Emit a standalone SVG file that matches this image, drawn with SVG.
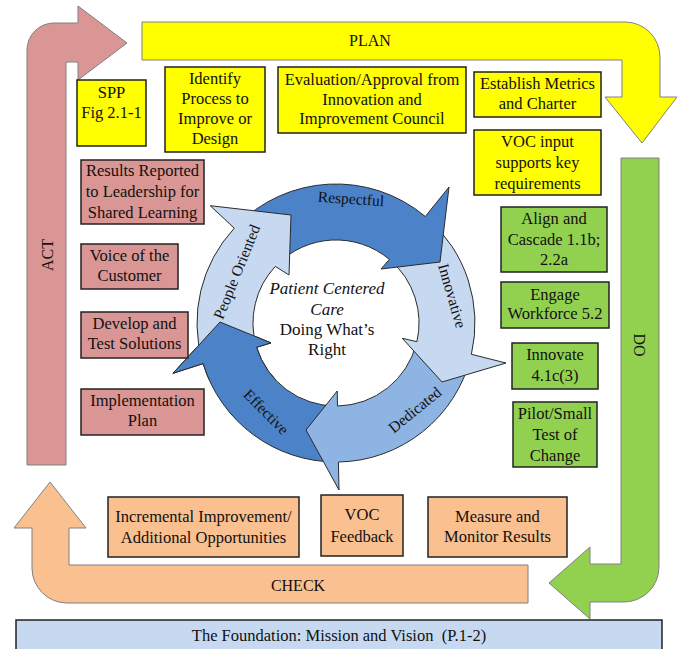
<svg xmlns="http://www.w3.org/2000/svg" width="681" height="649" viewBox="0 0 681 649">
<style>
text{font-family:"Liberation Serif","Times New Roman",serif;fill:#111;text-anchor:middle}
.t{font-size:16.5px}
.lbl{font-size:16px}
.ring{font-size:15.5px}
.ctr{font-size:17px}
.it{font-style:italic}
.box{stroke:#222;stroke-width:1.5}
.y{fill:#FFFF00}.g{fill:#92D050}.p{fill:#D99694}.o{fill:#FAC090}
.big{stroke:#808080;stroke-width:1}
.arc{stroke:#2b2b2b;stroke-width:1}
</style>
<defs>
<clipPath id="ec"><rect x="150" y="285" width="150" height="95"/></clipPath>
</defs>
<rect width="681" height="649" fill="#fff"/>
<g id="connectors">
<path id="act-arrow" class="big p" d="M27,465 L27,50 A27,27 0 0 1 54,23 L78,23 L78,6 L127,43 L78,80 L78,62 L66,62 L66,465 Z"/>
<path id="plan-arrow" class="big y" d="M142,22 L625,22 A35,35 0 0 1 660,57 L660,97 L677,97 L642,143 L605,97 L622,97 L622,60 L142,60 Z"/>
<path id="do-arrow" class="big g" d="M621,158 L659,158 L659,567 A35,35 0 0 1 624,602 L590,602 L590,619 L549,583 L590,547 L590,564 L621,564 Z"/>
<path id="check-arrow" class="big o" d="M528,565 L528,603 L67,603 A35,35 0 0 1 32,568 L32,528 L14,528 L50,482 L86,528 L69,528 L69,565 Z"/>
<text class="lbl" x="370" y="46">PLAN</text>
<text class="lbl" transform="translate(47,255) rotate(-90)" dy="5.5">ACT</text>
<text class="lbl" transform="translate(639,345) rotate(90)" dy="5.5">DO</text>
<text class="lbl" x="298" y="591">CHECK</text>
</g>
<g id="cycle">
<path id="arc-effective" class="arc" fill="#4C82C8" d="M336,462 A139,139 0 0 1 203.1,363.6 L173,373.3 L220,322 L271,342.9 L256.6,347.3 A83,83 0 0 0 336,406 Z"/>
<path id="arc-dedicated" class="arc" fill="#8EB4E3" d="M470.9,356.6 A139,139 0 0 1 338.4,462 L339,490 L306,430 L337.2,391 L337.5,406 A83,83 0 0 0 416.5,343.1 Z"/>
<path id="arc-innovative" class="arc" fill="#C6D9F1" d="M427.2,218.1 A139,139 0 0 1 471.4,354.3 L506,363 L442,382 L402.3,338.3 L416.9,341.7 A83,83 0 0 0 390.5,260.4 Z"/>
<path id="arc-respectful" class="arc" fill="#4C82C8" d="M236,226.4 A139,139 0 0 1 425.3,216.5 L449,187 L440,262 L381,269 L389.4,259.4 A83,83 0 0 0 276.3,265.3 Z"/>
<path id="arc-people" class="arc" fill="#C6D9F1" d="M202.4,361.3 A139,139 0 0 1 234.3,228.2 L210.2,205.7 L291,215 L289,275 L275.3,266.4 A83,83 0 0 0 256.2,345.9 Z"/>
<path class="arc" fill="#4C82C8" clip-path="url(#ec)" d="M336,462 A139,139 0 0 1 203.1,363.6 L173,373.3 L220,322 L271,342.9 L256.6,347.3 A83,83 0 0 0 336,406 Z"/>
<text class="ring" transform="translate(351,199) rotate(4)" dy="5">Respectful</text>
<text class="ring" transform="translate(452,296) rotate(74)" dy="5">Innovative</text>
<text class="ring" transform="translate(415,410) rotate(-39)" dy="5">Dedicated</text>
<text class="ring" transform="translate(266,412) rotate(45)" dy="5">Effective</text>
<text class="ring" transform="translate(237,272) rotate(-68)" dy="5">People Oriented</text>
<text class="ctr it" x="327" y="294">Patient Centered</text>
<text class="ctr it" x="327" y="315">Care</text>
<text class="ctr" x="327" y="335">Doing What’s</text>
<text class="ctr" x="327" y="355">Right</text>
</g>
<g id="spp"><rect class="box y" x="77" y="80" width="69" height="66"/><text class="t" x="111.5" y="98">SPP</text><text class="t" x="111.5" y="118">Fig 2.1-1</text></g>
<g id="identify"><rect class="box y" x="165" y="67" width="100" height="85"/><text class="t" x="215" y="84">Identify</text><text class="t" x="215" y="104">Process to</text><text class="t" x="215" y="124">Improve or</text><text class="t" x="215" y="144">Design</text></g>
<g id="evaluation"><rect class="box y" x="278" y="67" width="188" height="66"/><text class="t" x="372" y="85">Evaluation/Approval from</text><text class="t" x="372" y="105">Innovation and</text><text class="t" x="372" y="124">Improvement Council</text></g>
<g id="metrics"><rect class="box y" x="474" y="72" width="127" height="45"/><text class="t" x="537.5" y="89">Establish Metrics</text><text class="t" x="537.5" y="109">and Charter</text></g>
<g id="voc-input"><rect class="box y" x="474" y="130" width="127" height="65"/><text class="t" x="537.5" y="147">VOC input</text><text class="t" x="537.5" y="168">supports key</text><text class="t" x="537.5" y="189">requirements</text></g>
<g id="align"><rect class="box g" x="501" y="207" width="106" height="65"/><text class="t" x="554" y="224">Align and</text><text class="t" x="554" y="245">Cascade 1.1b;</text><text class="t" x="554" y="265">2.2a</text></g>
<g id="engage"><rect class="box g" x="501" y="282" width="108" height="46"/><text class="t" x="555" y="300">Engage</text><text class="t" x="555" y="319">Workforce 5.2</text></g>
<g id="innovate"><rect class="box g" x="512" y="343" width="86" height="46"/><text class="t" x="555" y="360">Innovate</text><text class="t" x="555" y="381">4.1c(3)</text></g>
<g id="pilot"><rect class="box g" x="513" y="402" width="84" height="65"/><text class="t" x="555" y="419">Pilot/Small</text><text class="t" x="555" y="440">Test of</text><text class="t" x="555" y="461">Change</text></g>
<g id="results"><rect class="box p" x="81" y="160" width="123" height="64"/><text class="t" x="142.5" y="176">Results Reported</text><text class="t" x="142.5" y="197">to Leadership for</text><text class="t" x="142.5" y="218">Shared Learning</text></g>
<g id="voice"><rect class="box p" x="81" y="244" width="97" height="45"/><text class="t" x="129.5" y="261">Voice of the</text><text class="t" x="129.5" y="281">Customer</text></g>
<g id="develop"><rect class="box p" x="81" y="312" width="107" height="46"/><text class="t" x="134.5" y="329">Develop and</text><text class="t" x="134.5" y="349">Test Solutions</text></g>
<g id="implementation"><rect class="box p" x="81" y="389" width="123" height="46"/><text class="t" x="142.5" y="406">Implementation</text><text class="t" x="142.5" y="426">Plan</text></g>
<g id="incremental"><rect class="box o" x="108" y="497" width="191" height="60"/><text class="t" x="203.5" y="522">Incremental Improvement/</text><text class="t" x="203.5" y="543">Additional Opportunities</text></g>
<g id="voc-feedback"><rect class="box o" x="321" y="495" width="82" height="61"/><text class="t" x="362" y="520">VOC</text><text class="t" x="362" y="542">Feedback</text></g>
<g id="measure"><rect class="box o" x="428" y="497" width="139" height="60"/><text class="t" x="497.5" y="522">Measure and</text><text class="t" x="497.5" y="542">Monitor Results</text></g>
<g id="foundation"><rect class="box" fill="#C6D9F1" x="16" y="620" width="646" height="40"/><text class="t" x="339" y="641">The Foundation: Mission and Vision &#160;(P.1-2)</text></g>
</svg>
